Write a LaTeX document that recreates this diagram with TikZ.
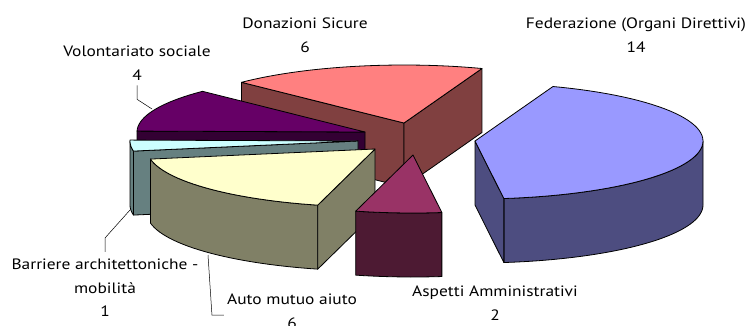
\documentclass[tikz,border=0pt]{standalone}
\usepackage{fontspec}
\setmainfont[FakeStretch=1.16]{PT Sans}
\usepackage{tikz}

\definecolor{fedtop}{HTML}{9999FF}
\definecolor{fedside}{HTML}{4D4D80}
\definecolor{asptop}{HTML}{993366}
\definecolor{aspside}{HTML}{4D1A33}
\definecolor{autotop}{HTML}{FFFFCC}
\definecolor{autoside}{HTML}{808066}
\definecolor{bartop}{HTML}{CCFFFF}
\definecolor{barside}{HTML}{668080}
\definecolor{voltop}{HTML}{660066}
\definecolor{volside}{HTML}{330033}
\definecolor{dontop}{HTML}{FF8080}
\definecolor{donside}{HTML}{804040}

\def\prx{228}
\def\pry{58}
\def\pdep{64}

\tikzset{
  face/.style={draw=black, line width=0.8pt, line join=round},
  lbl/.style={align=center, font=\fontsize{15}{23.5}\selectfont, inner sep=0pt},
  leader/.style={draw=black, line width=0.5pt}
}

\begin{document}
\begin{tikzpicture}[x=1pt, y=-1pt]
%		\draw[help lines, step=50] (0,0) grid (747,325);
		\useasboundingbox (0,0) rectangle (747,325);

		% Donazioni Sicure
		\begin{scope}[shift={(404,123)}]
		\draw[face, fill=donside] (0,0) -- ({\prx*cos(135.45)},{-\pry*sin(135.45)}) -- ++(0,\pdep) -- (0,\pdep) -- cycle;
		\draw[face, fill=donside] (0,0) -- ({\prx*cos(70)},{-\pry*sin(70)}) -- ++(0,\pdep) -- (0,\pdep) -- cycle;
		\draw[face, fill=dontop] (0,0) -- plot[domain=135.45:70, samples=30] ({\prx*cos(\x)},{-\pry*sin(\x)}) -- cycle;
		\end{scope}

		% Volontariato sociale
		\begin{scope}[shift={(365,132)}]
		\draw[face, fill=volside] (0,0) -- ({\prx*cos(179.09)},{-\pry*sin(179.09)}) -- ++(0,\pdep) -- (0,\pdep) -- cycle;
		\draw[face, fill=voltop] (0,0) -- plot[domain=179.09:135.45, samples=20] ({\prx*cos(\x)},{-\pry*sin(\x)}) -- cycle;
		\end{scope}

		% Barriere architettoniche - mobilita
		\begin{scope}[shift={(358,141)}]
		\draw[face, fill=barside] plot[domain=-180:-170, samples=6] ({\prx*cos(\x)},{-\pry*sin(\x)}) -- plot[domain=-170:-180, samples=6] ({\prx*cos(\x)},{\pdep-\pry*sin(\x)}) -- cycle;
		\draw[face, fill=barside] (0,0) -- ({\prx*cos(-170)},{-\pry*sin(-170)}) -- ++(0,\pdep) -- (0,\pdep) -- cycle;
		\draw[face, fill=bartop] (0,0) -- plot[domain=-170:-180.91, samples=6] ({\prx*cos(\x)},{-\pry*sin(\x)}) -- cycle;
		\end{scope}

		% Auto mutuo aiuto
		\begin{scope}[shift={(375,149)}]
		\draw[face, fill=autoside] plot[domain=-170:-104.55, samples=30] ({\prx*cos(\x)},{-\pry*sin(\x)}) -- plot[domain=-104.55:-170, samples=30] ({\prx*cos(\x)},{\pdep-\pry*sin(\x)}) -- cycle;
		\draw[face, fill=autoside] (0,0) -- ({\prx*cos(-104.55)},{-\pry*sin(-104.55)}) -- ++(0,\pdep) -- (0,\pdep) -- cycle;
		\draw[face, fill=autotop] (0,0) -- plot[domain=-104.55:-170, samples=30] ({\prx*cos(\x)},{-\pry*sin(\x)}) -- cycle;
		\end{scope}

		% Aspetti Amministrativi
		\begin{scope}[shift={(413,155)}]
		\draw[face, fill=aspside] plot[domain=-104.55:-82.73, samples=12] ({\prx*cos(\x)},{-\pry*sin(\x)}) -- plot[domain=-82.73:-104.55, samples=12] ({\prx*cos(\x)},{\pdep-\pry*sin(\x)}) -- cycle;
		\draw[face, fill=asptop] (0,0) -- plot[domain=-82.73:-104.55, samples=12] ({\prx*cos(\x)},{-\pry*sin(\x)}) -- cycle;
		\end{scope}

		% Federazione (Organi Direttivi)
		\begin{scope}[shift={(475,141)}]
		\draw[face, fill=fedside] plot[domain=-82.73:0, samples=40] ({\prx*cos(\x)},{-\pry*sin(\x)}) -- plot[domain=0:-82.73, samples=40] ({\prx*cos(\x)},{\pdep-\pry*sin(\x)}) -- cycle;
		\draw[face, fill=fedside] (0,0) -- ({\prx*cos(-82.73)},{-\pry*sin(-82.73)}) -- ++(0,\pdep) -- (0,\pdep) -- cycle;
		\draw[face, fill=fedtop] (0,0) -- plot[domain=70:-82.73, samples=60] ({\prx*cos(\x)},{-\pry*sin(\x)}) -- cycle;
		\end{scope}

		% labels
		\node[lbl] (lbldon) at (305,35) {Donazioni Sicure\\6};
		\node[lbl] (lblfed) at (636,35) {Federazione (Organi Direttivi)\\14};
		\node[lbl] (lblvol) at (137,63) {Volontariato sociale\\4};
		\node[lbl] (lblbar) at (105,288) {Barriere architettoniche -\\mobilità\\1};
		\node[lbl] (lblauto) at (292,311) {Auto mutuo aiuto\\6};
		\node[lbl] (lblasp) at (495,303) {Aspetti Amministrativi\\2};

		\coordinate (volpt) at (152,109);
		\coordinate (barpt) at (130,210);
		\coordinate (autopt) at (208,255);
		\draw[leader] (lblvol.south) ++(0,5) -- ++(0,14) -- (volpt);
		\draw[leader] (lblbar.north) ++(0,-7) -- ++(0,-14) -- (barpt);
		\draw[leader] (lblauto.west) ++(-3,4) -- ++(-12,0) -- (autopt);
\end{tikzpicture}
\end{document}
